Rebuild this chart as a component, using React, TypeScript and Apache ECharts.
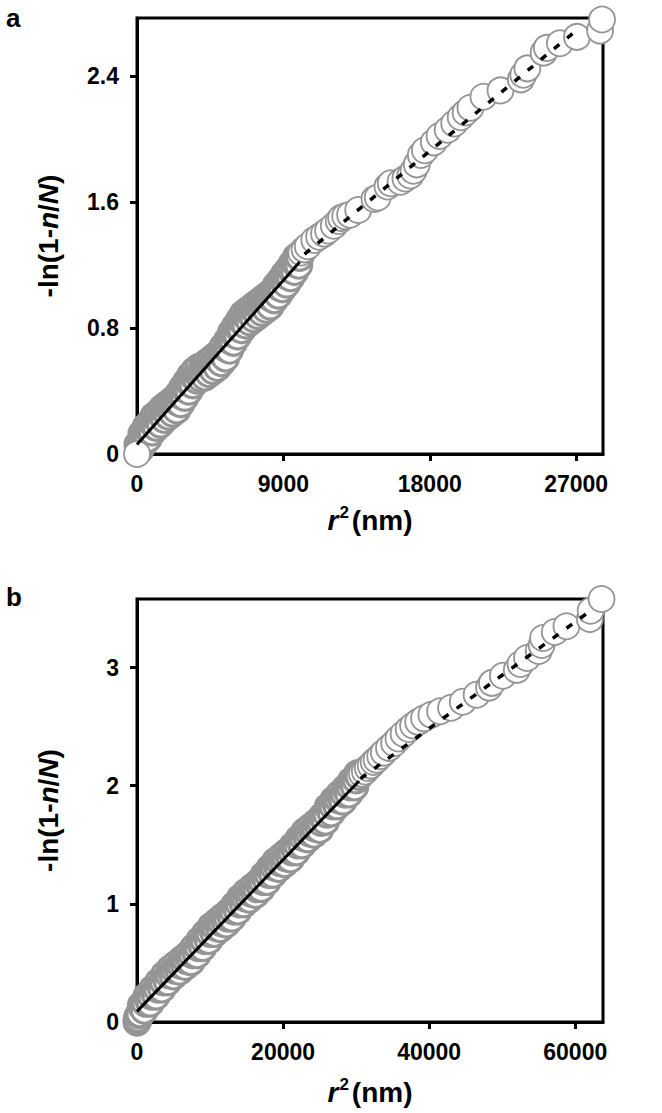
import React, { useEffect, useRef } from "react";
import * as echarts from "echarts";

// ---------- Panel a ----------
const A_X_TICKS = [0, 9000, 18000, 27000];
const A_Y_TICKS = [0, 0.8, 1.6, 2.4];
const A_ORIGIN = [[0, 0]];
const A_LOWER = [
  [190, 0.03], [440, 0.07], [690, 0.1], [940, 0.14], [1190, 0.17], [1440, 0.19], [1690, 0.22], [1940, 0.24],
  [2190, 0.26], [2440, 0.28], [2690, 0.32], [2940, 0.36], [3190, 0.4], [3440, 0.44], [3690, 0.47], [3940, 0.48],
  [4190, 0.49], [4440, 0.51], [4690, 0.53], [4940, 0.55], [5190, 0.58], [5440, 0.61], [5690, 0.66], [5940, 0.71],
  [6190, 0.75], [6440, 0.79], [6690, 0.82], [6940, 0.84], [7190, 0.86], [7440, 0.88], [7690, 0.9], [7940, 0.92],
  [8190, 0.94], [8440, 0.98], [8690, 1.01], [8940, 1.05], [9190, 1.08], [9440, 1.12], [9690, 1.16], [9940, 1.2],
];
const A_POINTS = [
  [125, 0.05], [250, 0.08], [375, 0.1], [500, 0.12], [625, 0.14], [750, 0.15], [875, 0.17], [1000, 0.19],
  [1125, 0.21], [1250, 0.22], [1375, 0.23], [1500, 0.25], [1625, 0.26], [1750, 0.27], [1875, 0.28], [2000, 0.29],
  [2125, 0.3], [2250, 0.31], [2375, 0.32], [2500, 0.33], [2625, 0.35], [2750, 0.37], [2875, 0.39], [3000, 0.41],
  [3125, 0.43], [3250, 0.45], [3375, 0.47], [3500, 0.49], [3625, 0.5], [3750, 0.51], [3875, 0.51], [4000, 0.52],
  [4125, 0.53], [4250, 0.54], [4375, 0.55], [4500, 0.56], [4625, 0.57], [4750, 0.58], [4875, 0.59], [5000, 0.6],
  [5125, 0.61], [5250, 0.63], [5375, 0.65], [5500, 0.67], [5625, 0.7], [5750, 0.72], [5875, 0.74], [6000, 0.76],
  [6125, 0.78], [6250, 0.8], [6375, 0.82], [6500, 0.84], [6625, 0.86], [6750, 0.87], [6875, 0.88], [7000, 0.89],
  [7125, 0.9], [7250, 0.91], [7375, 0.92], [7500, 0.93], [7625, 0.94], [7750, 0.95], [7875, 0.96], [8000, 0.97],
  [8125, 0.98], [8250, 0.99], [8375, 1.01], [8500, 1.03], [8625, 1.05], [8750, 1.06], [8875, 1.08], [9000, 1.1],
  [9125, 1.12], [9250, 1.13], [9375, 1.15], [9500, 1.17], [9625, 1.19], [9750, 1.21], [9875, 1.23], [10000, 1.25],
];
const A_UPPER = [
  [60, 0.06], [310, 0.13], [560, 0.17], [810, 0.2], [1060, 0.24], [1310, 0.26], [1560, 0.29], [1810, 0.31],
  [2060, 0.33], [2310, 0.35], [2560, 0.38], [2810, 0.42], [3060, 0.46], [3310, 0.5], [3560, 0.53], [3810, 0.55],
  [4060, 0.56], [4310, 0.58], [4560, 0.6], [4810, 0.62], [5060, 0.64], [5310, 0.68], [5560, 0.72], [5810, 0.77],
  [6060, 0.81], [6310, 0.85], [6560, 0.89], [6810, 0.91], [7060, 0.93], [7310, 0.95], [7560, 0.97], [7810, 0.99],
  [8060, 1.01], [8310, 1.03], [8560, 1.07], [8810, 1.1], [9060, 1.14], [9310, 1.17], [9560, 1.21], [9810, 1.25],
];
const A_SPARSE = [
  [10100, 1.28], [10300, 1.3], [10500, 1.32], [10900, 1.36], [11200, 1.38], [11500, 1.4], [11750, 1.42],
  [12100, 1.45], [12400, 1.48], [12550, 1.5], [12800, 1.51], [13100, 1.52], [13600, 1.55], [14600, 1.62],
  [14800, 1.63], [15400, 1.7], [15600, 1.72], [16200, 1.73], [16500, 1.75], [16800, 1.77], [17000, 1.8],
  [17200, 1.84], [17450, 1.9], [17700, 1.93], [18250, 1.98], [18600, 2.02], [19100, 2.06], [19500, 2.1],
  [19900, 2.14], [20200, 2.17], [20500, 2.2], [21300, 2.27], [22350, 2.31], [23600, 2.38], [23750, 2.41],
  [24000, 2.45], [25000, 2.55], [25200, 2.58], [26000, 2.61], [27050, 2.65], [28470, 2.69], [28590, 2.76],
];
const A_FIT_SOLID = [[0, 0.06], [10000, 1.22]];
const A_FIT_DASHED = [[10300, 1.27], [27000, 2.69]];

// ---------- Panel b ----------
const B_X_TICKS = [0, 20000, 40000, 60000];
const B_Y_TICKS = [0, 1, 2, 3];
const B_LOWER = [
  [1000, 0.1], [1800, 0.16], [2600, 0.22], [3400, 0.28], [4200, 0.34], [5000, 0.39], [5800, 0.43], [6600, 0.47],
  [7400, 0.51], [8200, 0.57], [9000, 0.63], [9800, 0.69], [10600, 0.75], [11400, 0.79], [12200, 0.83], [13000, 0.88],
  [13800, 0.94], [14600, 1.0], [15400, 1.04], [16200, 1.08], [17000, 1.13], [17800, 1.19], [18600, 1.25],
  [19400, 1.3], [20200, 1.34], [21000, 1.38], [21800, 1.44], [22600, 1.5], [23400, 1.55], [24200, 1.59],
  [25000, 1.63], [25800, 1.7], [26600, 1.77], [27400, 1.83], [28200, 1.87], [29000, 1.93], [29800, 1.99],
];
const B_POINTS = [
  [0, 0], [50, 0.02], [100, 0.04], [200, 0.03], [300, 0.06], [400, 0.07], [800, 0.12], [1200, 0.16], [1600, 0.19],
  [2000, 0.22], [2400, 0.25], [2800, 0.28], [3200, 0.31], [3600, 0.34], [4000, 0.37], [4400, 0.4], [4800, 0.42],
  [5200, 0.44], [5600, 0.46], [6000, 0.48], [6400, 0.5], [6800, 0.52], [7200, 0.54], [7600, 0.57], [8000, 0.6],
  [8400, 0.63], [8800, 0.66], [9200, 0.69], [9600, 0.72], [10000, 0.75], [10400, 0.78], [10800, 0.8], [11200, 0.82],
  [11600, 0.84], [12000, 0.86], [12400, 0.88], [12800, 0.91], [13200, 0.94], [13600, 0.97], [14000, 1.0],
  [14400, 1.03], [14800, 1.05], [15200, 1.07], [15600, 1.09], [16000, 1.11], [16400, 1.13], [16800, 1.16],
  [17200, 1.19], [17600, 1.22], [18000, 1.25], [18400, 1.28], [18800, 1.31], [19200, 1.33], [19600, 1.35],
  [20000, 1.37], [20400, 1.39], [20800, 1.41], [21200, 1.44], [21600, 1.47], [22000, 1.5], [22400, 1.53],
  [22800, 1.56], [23200, 1.58], [23600, 1.6], [24000, 1.62], [24400, 1.64], [24800, 1.66], [25200, 1.69],
  [25600, 1.72], [26000, 1.76], [26400, 1.8], [26800, 1.83], [27200, 1.86], [27600, 1.88], [28000, 1.9],
  [28400, 1.93], [28800, 1.96], [29200, 1.99], [29600, 2.02], [30000, 2.05], [30400, 2.08],
];
const B_UPPER = [
  [600, 0.14], [1400, 0.22], [2200, 0.28], [3000, 0.34], [3800, 0.4], [4600, 0.45], [5400, 0.49], [6200, 0.53],
  [7000, 0.57], [7800, 0.63], [8600, 0.69], [9400, 0.75], [10200, 0.81], [11000, 0.85], [11800, 0.89], [12600, 0.93],
  [13400, 0.99], [14200, 1.05], [15000, 1.1], [15800, 1.14], [16600, 1.18], [17400, 1.24], [18200, 1.3],
  [19000, 1.36], [19800, 1.4], [20600, 1.44], [21400, 1.49], [22200, 1.55], [23000, 1.61], [23800, 1.65],
  [24600, 1.69], [25400, 1.74], [26200, 1.82], [27000, 1.88], [27800, 1.93], [28600, 1.98], [29400, 2.04], [30200, 2.1],
];
const B_SPARSE = [
  [30800, 2.1], [31200, 2.12], [31600, 2.15], [32000, 2.17], [32400, 2.2], [32800, 2.22], [33300, 2.25],
  [33800, 2.28], [34500, 2.32], [35200, 2.36], [35800, 2.4], [36500, 2.44], [37200, 2.48], [37800, 2.51],
  [38500, 2.54], [39300, 2.57], [40300, 2.6], [41500, 2.63], [43000, 2.66], [44600, 2.71], [46500, 2.77],
  [48200, 2.83], [48600, 2.87], [50100, 2.93], [52000, 2.98], [52500, 3.03], [53400, 3.08], [55000, 3.14],
  [55400, 3.19], [55600, 3.25], [57200, 3.3], [58800, 3.35], [62000, 3.41], [62100, 3.48], [63600, 3.58],
];
const B_FIT_SOLID = [[0, 0.09], [30400, 2.04]];
const B_FIT_DASHED = [[30600, 2.06], [62300, 3.49]];

const FONT = "'Liberation Sans', Arial, Helvetica, sans-serif";

function byX(...lists: number[][][]) {
  return ([] as number[][]).concat(...lists).sort((p, q) => p[0] - q[0]);
}

function fmt(v: number) {
  return String(Math.round(v * 100) / 100);
}

function xAxis(gridIndex: number, ticks: number[], max: number, nameGap: number) {
  return {
    type: "value",
    gridIndex,
    min: ticks[0],
    max,
    interval: ticks[1] - ticks[0],
    splitLine: { show: false },
    axisLine: { show: true, onZero: false, lineStyle: { color: "#000", width: 3 } },
    axisTick: { show: true, length: 7, lineStyle: { color: "#000", width: 3 } },
    axisLabel: {
      color: "#000",
      fontSize: 23,
      fontWeight: "bold",
      fontFamily: FONT,
      margin: 18,
      showMaxLabel: false,
      formatter: (v: number) => (ticks.indexOf(v) >= 0 ? fmt(v) : ""),
    },
    name: "{i|r}{s|2}{n|(nm)}",
    nameLocation: "middle",
    nameGap,
    nameTextStyle: {
      rich: {
        i: { fontSize: 28, fontWeight: "bold", fontStyle: "italic", fontFamily: FONT, color: "#000", lineHeight: 32 },
        s: { fontSize: 17, fontWeight: "bold", fontFamily: FONT, color: "#000", verticalAlign: "top", lineHeight: 17, padding: [0, 3, 0, 1] },
        n: { fontSize: 28, fontWeight: "bold", fontFamily: FONT, color: "#000", lineHeight: 32 },
      },
    },
  };
}

function yAxis(gridIndex: number, ticks: number[], max: number, nameGap: number) {
  return {
    type: "value",
    gridIndex,
    min: ticks[0],
    max,
    interval: ticks[1] - ticks[0],
    splitLine: { show: false },
    axisLine: { show: true, onZero: false, lineStyle: { color: "#000", width: 3 } },
    axisTick: { show: true, length: 7, lineStyle: { color: "#000", width: 3 } },
    axisLabel: {
      color: "#000",
      fontSize: 23,
      fontWeight: "bold",
      fontFamily: FONT,
      margin: 18,
      showMaxLabel: false,
      formatter: (v: number) => {
        const ok = ticks.some((t) => Math.abs(t - v) < 1e-6);
        return ok ? fmt(v) : "";
      },
    },
    name: "{t|-ln(1-}{i|n}{t|/}{i|N}{t|)}",
    nameLocation: "middle",
    nameRotate: 90,
    nameGap,
    nameTextStyle: {
      rich: {
        t: { fontSize: 28, fontWeight: "bold", fontFamily: FONT, color: "#000" },
        i: { fontSize: 28, fontWeight: "bold", fontStyle: "italic", fontFamily: FONT, color: "#000" },
      },
    },
  };
}

function scatter(xi: number, data: number[][], borderWidth: number, z = 2) {
  return {
    type: "scatter",
    xAxisIndex: xi,
    yAxisIndex: xi,
    data,
    symbol: "circle",
    symbolSize: 26,
    clip: false,
    silent: true,
    itemStyle: { color: "#ffffff", borderColor: "#959595", borderWidth, opacity: 1 },
    z,
  };
}

function fitLine(xi: number, data: number[][], dashed: boolean) {
  return {
    type: "line",
    xAxisIndex: xi,
    yAxisIndex: xi,
    data,
    showSymbol: false,
    symbol: "none",
    silent: true,
    z: 5,
    lineStyle: dashed
      ? { color: "#000", width: 3.5, type: [7, 10] }
      : { color: "#000", width: 3, type: "solid" },
  };
}

export default function App() {
  const ref = useRef<HTMLDivElement>(null);
  useEffect(() => {
    if (!ref.current) return;
    const chart = echarts.init(ref.current, null, { renderer: "svg" });
    chart.setOption({
      animation: false,
      backgroundColor: "#ffffff",
      grid: [
        { left: 137, top: 18, width: 466, height: 436, show: true, borderColor: "#000", borderWidth: 3, containLabel: false },
        { left: 137, top: 599, width: 466, height: 423, show: true, borderColor: "#000", borderWidth: 3, containLabel: false },
      ],
      xAxis: [xAxis(0, A_X_TICKS, 28650, 50), xAxis(1, B_X_TICKS, 63800, 54)],
      yAxis: [yAxis(0, A_Y_TICKS, 2.77, 75), yAxis(1, B_Y_TICKS, 3.58, 75)],
      graphic: [
        { type: "text", left: 6, top: 5, style: { text: "a", fontSize: 26, fontWeight: "bold", fontFamily: FONT, fill: "#000" } },
        { type: "text", left: 6, top: 584, style: { text: "b", fontSize: 26, fontWeight: "bold", fontFamily: FONT, fill: "#000" } },
      ],
      series: [
        scatter(0, byX(A_LOWER, A_POINTS, A_UPPER), 3.2),
        scatter(0, A_SPARSE, 1.8),
        scatter(0, A_ORIGIN, 1.8, 3),
        fitLine(0, A_FIT_SOLID, false),
        fitLine(0, A_FIT_DASHED, true),
        scatter(1, byX(B_LOWER, B_POINTS, B_UPPER), 3.2),
        scatter(1, B_SPARSE, 1.8),
        fitLine(1, B_FIT_SOLID, false),
        fitLine(1, B_FIT_DASHED, true),
      ],
    });
    return () => chart.dispose();
  }, []);
  return (
    <div
      ref={ref}
      style={{ position: "absolute", left: 0, top: 0, width: 662, height: 1113, background: "#fff" }}
    />
  );
}
